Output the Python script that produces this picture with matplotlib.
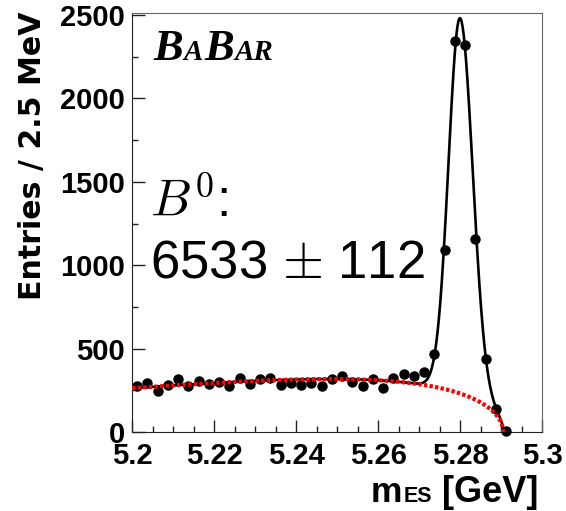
import numpy as np
import matplotlib.pyplot as plt
from matplotlib.ticker import MultipleLocator

plt.rcParams['mathtext.fontset'] = 'cm'

W, H = 566, 511

# m_ES data, 2.5 MeV bins (bin centres in GeV)
bin_centres = [5.20125, 5.20375, 5.20625, 5.20875, 5.21125, 5.21375, 5.21625,
               5.21875, 5.22125, 5.22375, 5.22625, 5.22875, 5.23125, 5.23375,
               5.23625, 5.23875, 5.24125, 5.24375, 5.24625, 5.24875, 5.25125,
               5.25375, 5.25625, 5.25875, 5.26125, 5.26375, 5.26625, 5.26875,
               5.27125, 5.27375, 5.27625, 5.27875, 5.28125, 5.28375, 5.28625,
               5.28875, 5.29125]
entries = [275, 293, 245, 281, 317, 275, 307, 287, 301, 275, 321, 287, 317,
           325, 281, 293, 281, 293, 275, 317, 338, 301, 275, 318, 261, 322,
           345, 338, 362, 467, 1090, 2347, 2323, 1156, 437, 138, 5]

# fit result: ARGUS background + bifurcated gaussian signal
argus_endpoint = 5.2905
argus_shape = -31.0
bkg_at_start = 263.0
sig_peak = 2250.0
sig_mean = 5.2800
sig_sigma_left = 0.0028
sig_sigma_right = 0.0031

xticks = [5.2, 5.22, 5.24, 5.26, 5.28, 5.3]
xtick_labels = ["5.2", "5.22", "5.24", "5.26", "5.28", "5.3"]
yticks = [0, 500, 1000, 1500, 2000, 2500]


def argus(m):
    t = np.clip(1 - (m / argus_endpoint) ** 2, 0, None)
    return m * np.sqrt(t) * np.exp(argus_shape * t)


def signal(m):
    s = np.where(m < sig_mean, sig_sigma_left, sig_sigma_right)
    return sig_peak * np.exp(-0.5 * ((m - sig_mean) / s) ** 2)


def px(x, y):
    return x / W, 1 - y / H


m = np.linspace(5.2, argus_endpoint, 800)
bkg = bkg_at_start * argus(m) / argus(np.array(5.2))
total = bkg + signal(m)

fig = plt.figure(figsize=(W / 100, H / 100), dpi=100)
ax = fig.add_axes([132 / W, 1 - 432 / H, 410 / W, 419 / H])

ax.plot(bin_centres, entries, "o", color="black", ms=6.5, clip_on=False, zorder=3)
ax.plot(m, total, color="black", lw=1.9, zorder=4)
ax.plot(m, bkg, color="#ff0000", lw=3.0, dashes=(0.8, 0.55),
        solid_capstyle="butt", dash_capstyle="butt", zorder=5)

ax.set_xlim(5.2, 5.3)
ax.set_ylim(0, 2512)
ax.set_xticks(xticks)
ax.set_xticklabels(xtick_labels)
ax.set_yticks(yticks)
ax.xaxis.set_minor_locator(MultipleLocator(0.005))
ax.yaxis.set_minor_locator(MultipleLocator(250))
ax.tick_params(which="both", direction="in", top=False, right=False,
               color="#222222", width=1)
ax.tick_params(which="major", length=9)
ax.tick_params(which="minor", length=4.5)
ax.tick_params(axis="x", pad=7)
ax.tick_params(axis="y", pad=5)
for lab in ax.get_xticklabels() + ax.get_yticklabels():
    lab.set_fontfamily("Liberation Sans")
    lab.set_fontweight("bold")
    lab.set_fontsize(21)

for side in ["left", "bottom"]:
    ax.spines[side].set_color("#222222")
for side in ["top", "right"]:
    ax.spines[side].set_color("#666666")

# axis titles
fig.text(*px(33, 12), "Entries / 2.5 MeV", rotation=90, ha="center",
         va="top", family="DejaVu Sans", weight="bold", fontsize=21.6)
fig.text(*px(371, 502), "m", ha="left", va="baseline",
         family="Liberation Sans", weight="bold", fontsize=25.5)
fig.text(*px(404, 502), "ES", ha="left", va="baseline",
         family="Liberation Sans", weight="bold", fontsize=15.5)
fig.text(*px(538, 502), "[GeV]", ha="right", va="baseline",
         family="Liberation Sans", weight="bold", fontsize=26)

# BaBar logo
logo = dict(family="Liberation Serif", weight="bold", style="italic",
            va="baseline", ha="left")
fig.text(*px(153, 60), "B", fontsize=32, **logo)
fig.text(*px(184, 60), "A", fontsize=21, **logo)
fig.text(*px(204, 60), "B", fontsize=32, **logo)
fig.text(*px(235, 60), "AR", fontsize=21, **logo)

# yield
fig.text(*px(150, 218), r"$B^{\mathsf{0}}$:", ha="left", va="baseline",
         family="Liberation Sans", fontsize=37)
fig.text(*px(150, 278), r"6533 $\pm$ 112", ha="left", va="baseline",
         family="Liberation Sans", fontsize=38)

fig.savefig("out.png", dpi=100)
